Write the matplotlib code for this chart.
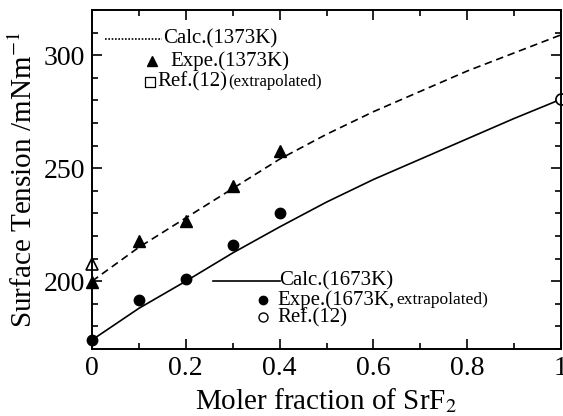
import matplotlib

matplotlib.use("Agg")
import matplotlib.pyplot as plt
from matplotlib.ticker import MultipleLocator

plt.rcParams["font.family"] = ["Liberation Serif", "DejaVu Serif"]
plt.rcParams["mathtext.fontset"] = "stix"

# Calculated curves
calc_x = [0.0, 0.1, 0.2, 0.3, 0.4, 0.5, 0.6, 0.7, 0.8, 0.9, 1.0]
calc_1373 = [200, 215, 228, 241, 254, 265, 275, 284, 293, 301, 309]
calc_1673 = [174, 188, 200, 212.5, 224, 235, 245, 254, 263, 272, 280.5]

# Experimental points
expe_x = [0.0, 0.1, 0.2, 0.3, 0.4]
expe_1373 = [199.5, 218, 226.5, 242, 257.5]
expe_1673 = [174, 191.5, 201, 216, 230]

# Reference values
ref_1373_x = [0.0]
ref_1373 = [207.5]
ref_1673_x = [1.0]
ref_1673 = [280.5]

W, H = 563, 416
fig = plt.figure(figsize=(W / 100, H / 100), dpi=100)
ax = fig.add_axes([92 / W, 67 / H, 469 / W, 339 / H])

dash = (0, (4.5, 2.8))
ax.plot(calc_x, calc_1373, color="black", lw=1.2, linestyle=dash)
ax.plot(calc_x, calc_1673, color="black", lw=1.2)
ax.plot(expe_x, expe_1373, "^", color="black", ms=8, clip_on=False)
ax.plot(expe_x, expe_1673, "o", color="black", ms=7.5, clip_on=False)
ax.plot(ref_1373_x, ref_1373, "^", mfc="white", mec="black", mew=1.2, ms=9, clip_on=False)
ax.plot(ref_1673_x, ref_1673, "o", mfc="white", mec="black", mew=1.2, ms=8, clip_on=False)

ax.set_xlim(0, 1)
ax.set_ylim(170, 320)
ax.xaxis.set_minor_locator(MultipleLocator(0.1))
ax.yaxis.set_major_locator(MultipleLocator(50))
ax.yaxis.set_minor_locator(MultipleLocator(10))
ax.set_xticks([0, 0.2, 0.4, 0.6, 0.8, 1.0])
ax.set_xticklabels(["0", "0.2", "0.4", "0.6", "0.8", "1"])
ax.tick_params(which="both", direction="in", top=True, right=True,
               labelsize=20, pad=5, width=1.2)
ax.tick_params(which="major", length=7)
ax.tick_params(which="minor", length=4)
for s in ax.spines.values():
    s.set_linewidth(1.4)

ax.set_xlabel("Moler fraction of SrF$_2$", fontsize=21, labelpad=4)
ax.set_ylabel("Surface Tension /mNm$^{-1}$", fontsize=21, labelpad=4)

# hand-drawn style legends, in axes fraction
tr = ax.transAxes
fs = 15
ax.plot([0.028, 0.149], [0.9145, 0.9145], transform=tr, color="black",
        lw=1.2, linestyle=(0, (1, 1)))
ax.text(0.151, 0.9145, "Calc.(1373K)", transform=tr, fontsize=fs, va="center")
ax.plot([0.127], [0.850], "^", transform=tr, color="black", ms=7)
ax.text(0.168, 0.850, "Expe.(1373K)", transform=tr, fontsize=fs, va="center")
ax.plot([0.124], [0.7885], "s", transform=tr, mfc="white", mec="black", mew=0.9, ms=6.5)
t = ax.text(0.139, 0.7885, "Ref.(12)", transform=tr, fontsize=fs, va="center")
ax.annotate("(extrapolated)", xy=(1, 0.5), xycoords=t, xytext=(1, 0),
            textcoords="offset points", fontsize=12, va="center")

ax.plot([0.2586, 0.4009], [0.2006, 0.2006], transform=tr, color="black", lw=1.2)
ax.text(0.3994, 0.2006, "Calc.(1673K)", transform=tr, fontsize=fs, va="center")
ax.plot([0.3652], [0.1445], "o", transform=tr, color="black", ms=6)
t2 = ax.text(0.3951, 0.1445, "Expe.(1673K,", transform=tr, fontsize=fs, va="center")
ax.annotate("extrapolated)", xy=(1, 0.5), xycoords=t2, xytext=(1, 0),
            textcoords="offset points", fontsize=12.5, va="center")
ax.plot([0.3652], [0.0935], "o", transform=tr, mfc="white", mec="black", mew=1.0, ms=6.5)
ax.text(0.3951, 0.0935, "Ref.(12)", transform=tr, fontsize=fs, va="center")

fig.savefig("out.png", dpi=100)
